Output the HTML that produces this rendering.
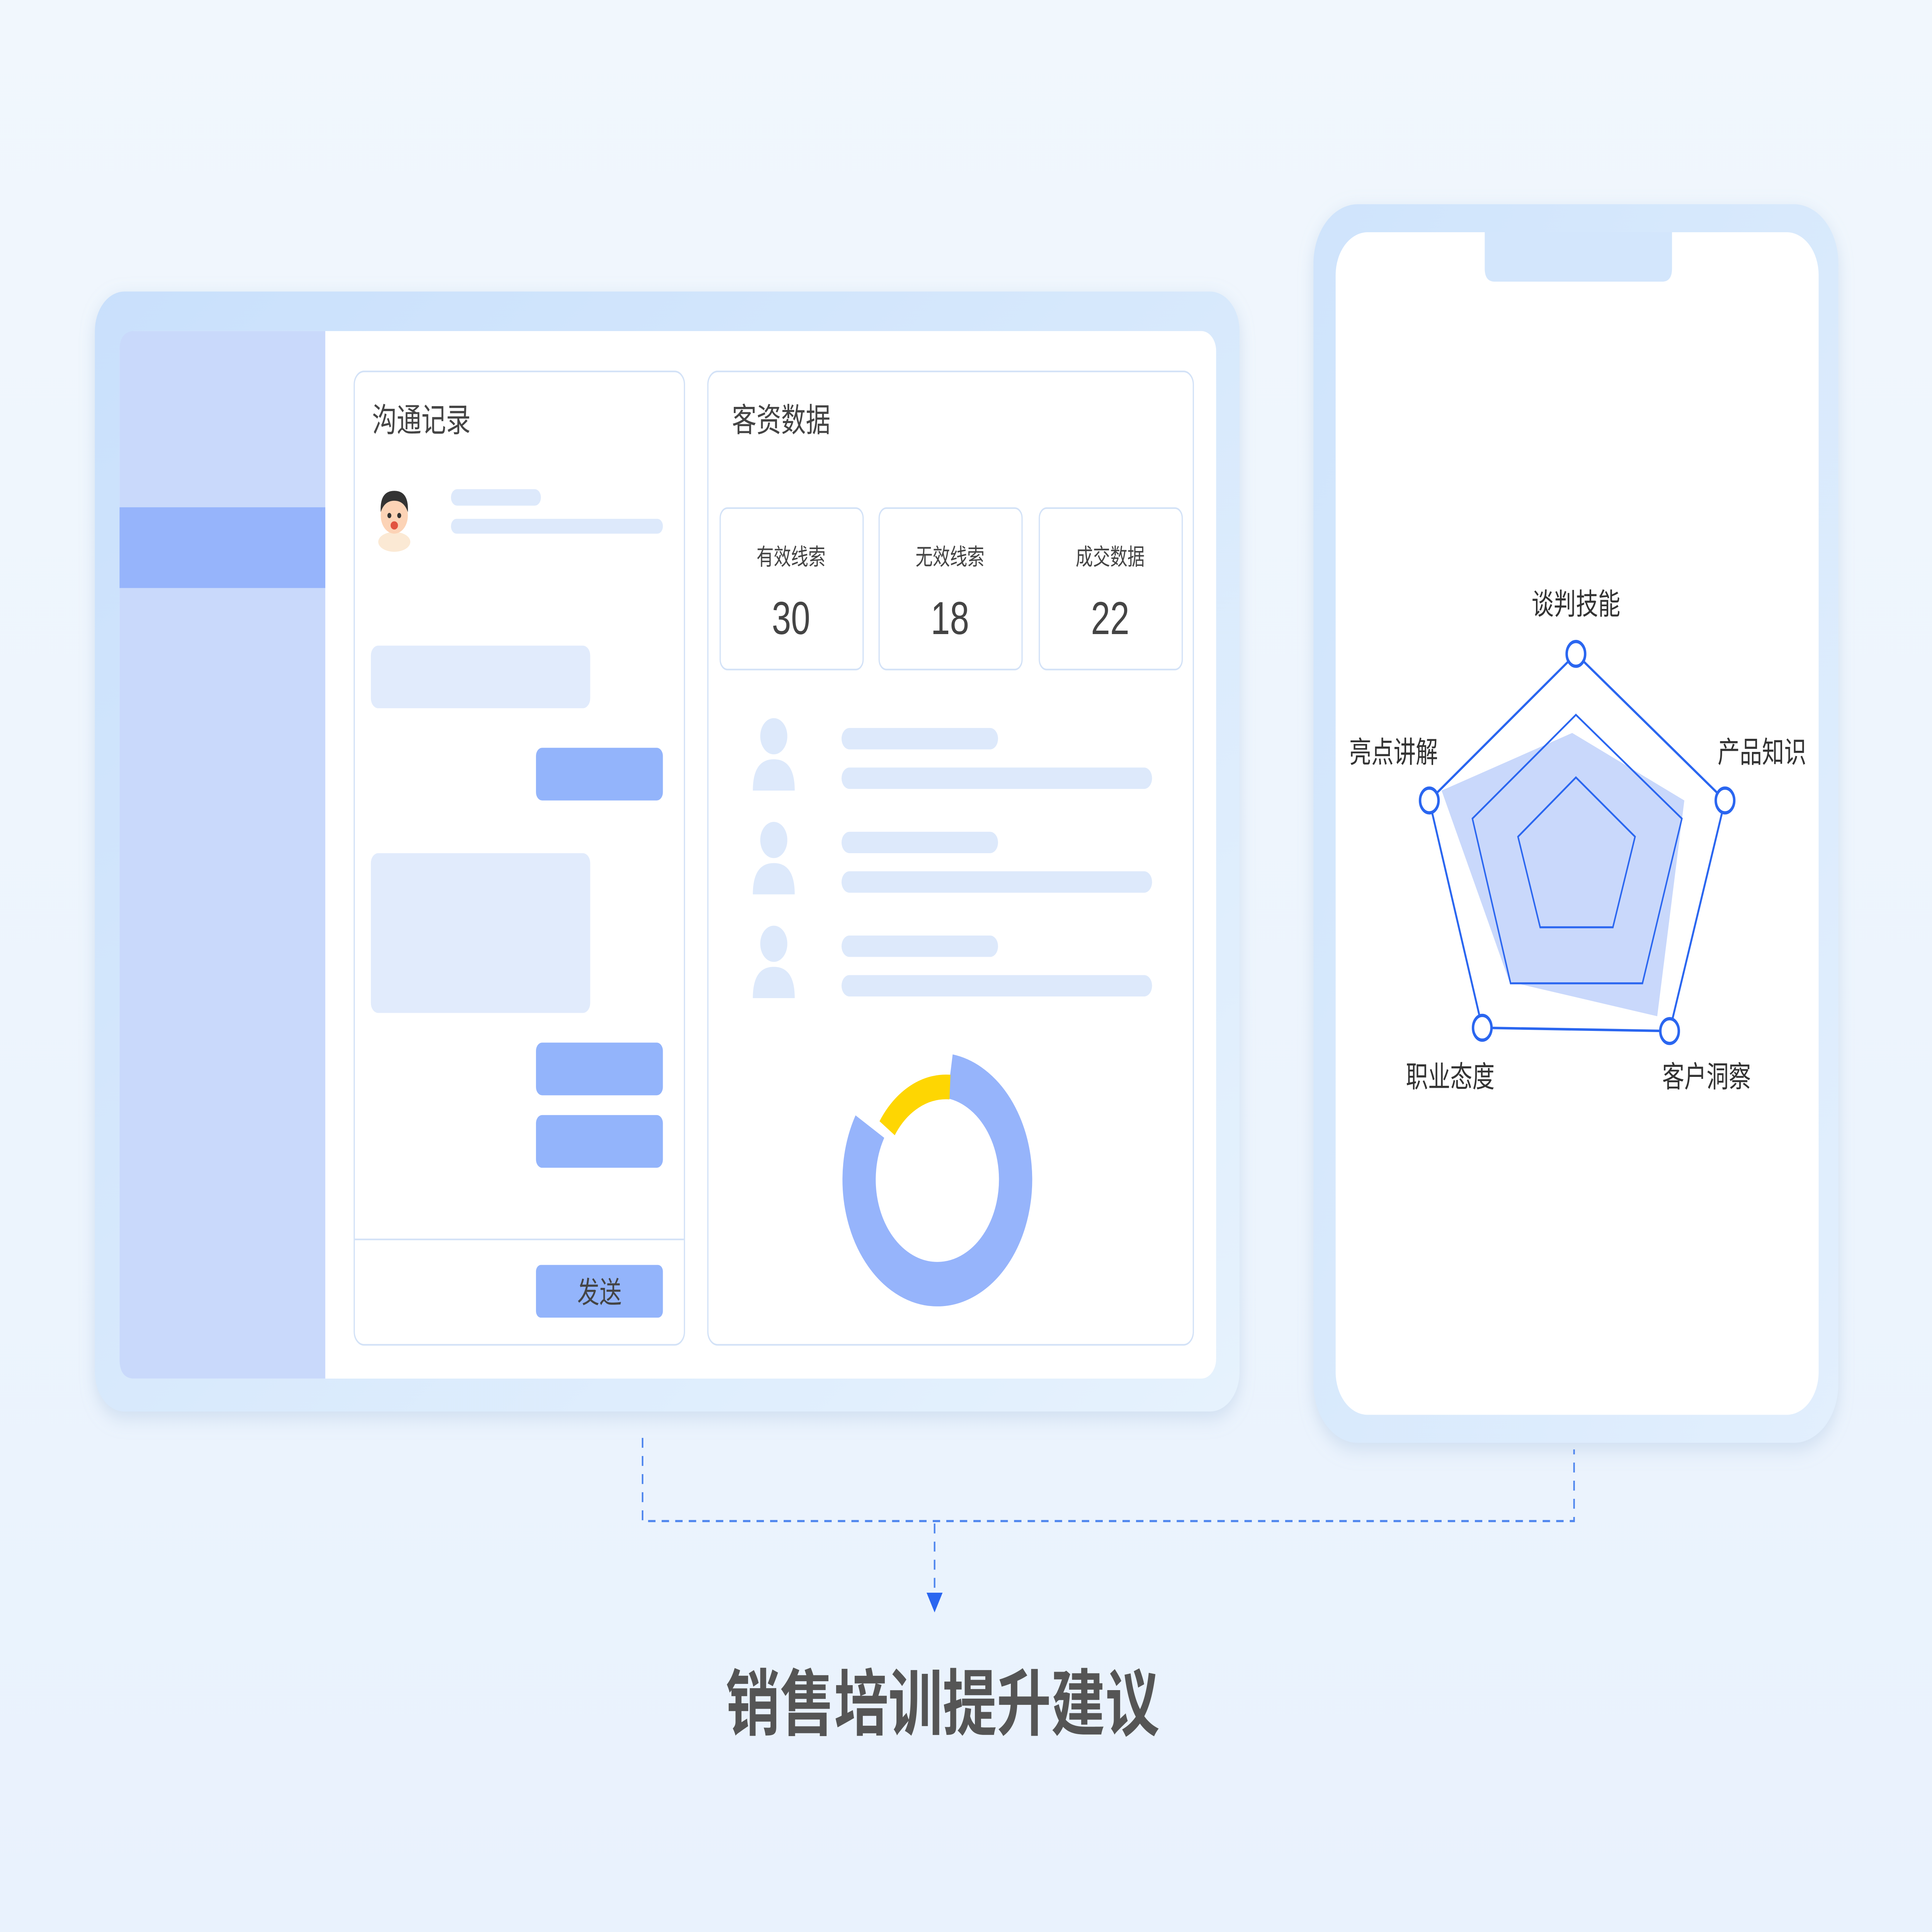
<!DOCTYPE html>
<html><head><meta charset="utf-8"><style>
html,body{margin:0;padding:0;width:100%;height:100%;overflow:hidden;background:#eef5fd}
svg{display:block;position:absolute;left:0;top:0;width:100vw;height:100vh}
text{font-family:"Liberation Sans","Noto Sans CJK SC",sans-serif}
</style></head><body>
<svg viewBox="0 0 1568 1173" preserveAspectRatio="none" xmlns="http://www.w3.org/2000/svg">
<defs>
<linearGradient id="bg" x1="0" y1="0" x2="0" y2="1"><stop offset="0" stop-color="#f1f7fd"/><stop offset="1" stop-color="#e9f2fd"/></linearGradient>
<linearGradient id="tab" x1="0" y1="0" x2="1" y2="1"><stop offset="0" stop-color="#c9e0fc"/><stop offset="1" stop-color="#e6f2fd"/></linearGradient>
<linearGradient id="ph" x1="0" y1="0" x2="1" y2="1"><stop offset="0" stop-color="#cfe4fc"/><stop offset="1" stop-color="#e2effd"/></linearGradient>
<filter id="sh" x="-10%" y="-10%" width="120%" height="120%"><feDropShadow dx="0" dy="4" stdDeviation="6" flood-color="#9bb6d8" flood-opacity="0.35"/></filter>
</defs>
<rect width="1568" height="1173" fill="url(#bg)"/>
<rect x="77" y="177" width="929" height="680" rx="24" fill="url(#tab)" filter="url(#sh)"/>
<rect x="97" y="201" width="890" height="636" rx="12" fill="#fff"/>
<path d="M109 201 H264 V837 H109 Q97 837 97 825 V213 Q97 201 109 201Z" fill="#c9d9fb"/>
<rect x="97" y="308" width="167" height="49" fill="#96b4fb"/>
<rect x="287.5" y="225.5" width="268" height="591" rx="8" fill="#fff" stroke="#d3e2f7"/>
<text x="302" y="262" font-size="20" fill="#444">沟通记录</text>
<g transform="translate(320,313)">
<ellipse cx="0" cy="16" rx="13" ry="6" fill="#fbe9d4"/>
<circle cx="0" cy="0" r="11" fill="#fcd3b6"/>
<path d="M-11 -2 Q-12 -15 0 -15 Q12 -15 11 -2 Q8 -9 0 -9 Q-8 -9 -11 -2Z" fill="#333"/>
<circle cx="-4" cy="0" r="1.6" fill="#333"/><circle cx="4" cy="0" r="1.6" fill="#333"/>
<ellipse cx="0" cy="6" rx="3" ry="2.5" fill="#e2533f"/>
</g>
<rect x="366" y="297" width="73" height="10" rx="5" fill="#dde9fb"/>
<rect x="366" y="315" width="172" height="9" rx="4.5" fill="#dde9fb"/>
<rect x="301" y="392" width="178" height="38" rx="6" fill="#e1ebfc"/>
<rect x="435" y="454" width="103" height="32" rx="5" fill="#93b4fb"/>
<rect x="301" y="518" width="178" height="97" rx="6" fill="#e1ebfc"/>
<rect x="435" y="633" width="103" height="32" rx="5" fill="#93b4fb"/>
<rect x="435" y="677" width="103" height="32" rx="5" fill="#93b4fb"/>
<line x1="288" y1="752.5" x2="555" y2="752.5" stroke="#d3e2f7"/>
<rect x="435" y="768" width="103" height="32" rx="4" fill="#93b4fb"/>
<text x="486.5" y="791" font-size="18" fill="#444" text-anchor="middle">发送</text>
<rect x="574.5" y="225.5" width="394" height="591" rx="8" fill="#fff" stroke="#d3e2f7"/>
<text x="594" y="262" font-size="20" fill="#444">客资数据</text>
<g font-size="14" fill="#444" text-anchor="middle">
<rect x="584.5" y="308.5" width="116" height="98" rx="6" fill="#fff" stroke="#d3e2f7"/>
<rect x="713.5" y="308.5" width="116" height="98" rx="6" fill="#fff" stroke="#d3e2f7"/>
<rect x="843.5" y="308.5" width="116" height="98" rx="6" fill="#fff" stroke="#d3e2f7"/>
<text x="642" y="343">有效线索</text><text x="771" y="343">无效线索</text><text x="901" y="343">成交数据</text>
<text x="642" y="385" font-size="28">30</text><text x="771" y="385" font-size="28">18</text><text x="901" y="385" font-size="28">22</text>
</g>
<g fill="#dde9fb">
<g><circle cx="628" cy="447" r="11"/><path d="M611 480 Q611 461 628 461 Q645 461 645 480Z"/>
<rect x="683" y="442" width="127" height="13" rx="6.5"/><rect x="683" y="466" width="252" height="13" rx="6.5"/></g>
<g transform="translate(0,63)"><circle cx="628" cy="447" r="11"/><path d="M611 480 Q611 461 628 461 Q645 461 645 480Z"/>
<rect x="683" y="442" width="127" height="13" rx="6.5"/><rect x="683" y="466" width="252" height="13" rx="6.5"/></g>
<g transform="translate(0,126)"><circle cx="628" cy="447" r="11"/><path d="M611 480 Q611 461 628 461 Q645 461 645 480Z"/>
<rect x="683" y="442" width="127" height="13" rx="6.5"/><rect x="683" y="466" width="252" height="13" rx="6.5"/></g>
</g>
<path d="M771 653.5 A63.5 63.5 0 1 1 706 684" fill="none" stroke="#96b4fb" stroke-width="27"/>
<path d="M720 685 A58 58 0 0 1 771 660" fill="none" stroke="#fed602" stroke-width="15"/>
<rect x="1066" y="124" width="426" height="752" rx="36" fill="url(#ph)" filter="url(#sh)"/>
<rect x="1084" y="141" width="392" height="718" rx="26" fill="#fff"/>
<path d="M1205 141 H1357 V163 Q1357 171 1349 171 H1213 Q1205 171 1205 163Z" fill="#d3e6fc"/>
<polygon points="1170,480 1276,445 1367,486 1345,617 1225,596" fill="#b7cbfa" opacity="0.75"/>
<polygon points="1279,397 1400,486 1355,626 1203,624 1160,486" fill="none" stroke="#2a66f0" stroke-width="1.5"/>
<polygon points="1279,434 1365,497 1333,597 1226,597 1195,497" fill="none" stroke="#2a66f0" stroke-width="1.2"/>
<polygon points="1279,472 1327,508 1309,563 1250,563 1232,508" fill="none" stroke="#2a66f0" stroke-width="1.2"/>
<g fill="#fff" stroke="#2a66f0" stroke-width="2">
<circle cx="1279" cy="397" r="7.5"/><circle cx="1400" cy="486" r="7.5"/><circle cx="1355" cy="626" r="7.5"/><circle cx="1203" cy="624" r="7.5"/><circle cx="1160" cy="486" r="7.5"/>
</g>
<g font-size="18" fill="#333" text-anchor="middle">
<text x="1279" y="373">谈判技能</text><text x="1430" y="463">产品知识</text><text x="1385" y="660">客户洞察</text><text x="1177" y="660">职业态度</text><text x="1131" y="463">亮点讲解</text>
</g>
<g fill="none" stroke="#4f86ee" stroke-width="1.3" stroke-dasharray="6,5">
<path d="M521.5 873 V923.5 H1277.5 V880"/>
<path d="M758.5 925 V967"/>
</g>
<polygon points="752,967 765,967 758.5,979" fill="#2a66f0"/>
<text x="765" y="1050" font-size="44" font-weight="bold" fill="#555" text-anchor="middle">销售培训提升建议</text>
</svg>
</body></html>
